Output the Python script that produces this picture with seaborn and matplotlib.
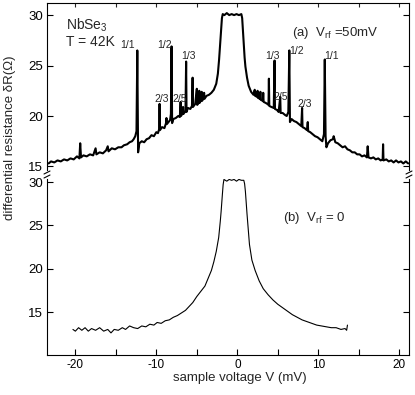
import matplotlib
matplotlib.use('Agg')
import numpy as np
import pandas as pd
import matplotlib.pyplot as plt
import seaborn as sns

# ---------------------------------------------------------------
# data
# ---------------------------------------------------------------
# (a) V_rf = 50 mV  (sample voltage in mV, dR in Ohm)
va_x = [-23.3, -23.0, -22.6, -22.2, -21.8, -21.4, -21.0, -20.6, -20.2, -19.8,
        -19.5, -19.4, -19.3, -19.0, -18.6, -18.2, -17.8, -17.5, -17.4, -17.0,
        -16.6, -16.2, -16.0, -15.9, -15.5, -15.1, -14.7, -14.3, -14.0, -13.6,
        -13.3, -13.0, -12.8, -12.6, -12.45, -12.35, -12.25, -12.1, -11.8, -11.5,
        -11.2, -10.9, -10.6, -10.3, -10.0, -9.8, -9.65, -9.6, -9.55, -9.3,
        -9.0, -8.8, -8.75, -8.7, -8.5, -8.3, -8.2, -8.12, -8.05, -7.9,
        -7.6, -7.3, -7.1, -7.0, -6.95, -6.75, -6.7, -6.65, -6.4, -6.32,
        -6.27, -6.1, -5.8, -5.6, -5.52, -5.47, -5.2, -5.0, -4.95, -4.75,
        -4.7, -4.65, -4.45, -4.4, -4.35, -4.15, -4.1, -4.05, -3.8, -3.5,
        -3.2, -2.9, -2.6, -2.4, -2.25, -2.1, -2.0, -1.9, -1.8, -1.6,
        -1.3, -1.0, -0.7, -0.4, -0.1, 0.2, 0.5, 0.6, 0.7, 0.8,
        0.9, 1.0, 1.2, 1.4, 1.7, 2.0, 2.15, 2.2, 2.45, 2.5,
        2.55, 2.8, 2.85, 2.9, 3.15, 3.2, 3.25, 3.5, 3.7, 3.85,
        3.9, 3.95, 4.2, 4.5, 4.6, 4.65, 4.9, 5.1, 5.3, 5.35,
        5.6, 5.9, 6.1, 6.3, 6.42, 6.5, 6.7, 7.0, 7.3, 7.6,
        7.9, 8.0, 8.05, 8.3, 8.6, 8.7, 8.75, 9.0, 9.3, 9.6,
        9.9, 10.2, 10.5, 10.7, 10.8, 10.9, 11.0, 11.2, 11.5, 11.8,
        11.9, 12.1, 12.4, 12.7, 13.0, 13.3, 13.6, 13.9, 14.2, 14.5,
        14.8, 15.1, 15.4, 15.7, 16.0, 16.1, 16.2, 16.5, 16.8, 17.1,
        17.4, 17.7, 17.95, 18.0, 18.05, 18.4, 18.7, 19.0, 19.3, 19.6,
        19.9, 20.2, 20.5, 20.8, 21.1]
va_y = [15.3, 15.5, 15.4, 15.6, 15.5, 15.7, 15.6, 15.8, 15.7, 16.0,
        15.8, 17.3, 15.9, 16.1, 16.0, 16.2, 16.1, 16.8, 16.2, 16.4,
        16.3, 16.6, 17.0, 16.5, 16.8, 16.7, 16.9, 16.9, 17.1, 17.2,
        17.4, 17.5, 17.7, 18.0, 18.5, 26.5, 16.4, 17.3, 17.5, 17.4,
        17.7, 17.8, 18.1, 18.0, 18.4, 18.3, 18.7, 21.2, 18.6, 18.9,
        18.8, 19.3, 19.8, 19.2, 19.4, 19.6, 20.2, 26.9, 19.3, 19.7,
        19.8, 20.0, 19.9, 21.4, 20.0, 20.3, 20.9, 20.2, 20.5, 25.4,
        20.4, 20.8, 20.7, 21.0, 23.8, 20.9, 21.2, 22.7, 21.1, 21.4,
        22.5, 21.3, 21.6, 22.4, 21.5, 21.8, 22.3, 21.7, 22.0, 22.1,
        22.3, 22.6, 23.2, 24.2, 25.6, 27.4, 28.6, 29.7, 30.1, 30.0,
        30.2, 30.0, 30.1, 30.0, 30.1, 30.0, 30.1, 29.7, 28.4, 27.0,
        25.8, 24.9, 23.8, 23.0, 22.4, 22.1, 22.6, 22.0, 21.9, 22.5,
        21.8, 21.7, 22.4, 21.6, 21.5, 22.3, 21.4, 21.3, 21.2, 21.1,
        23.7, 21.0, 20.9, 20.8, 25.5, 20.7, 20.6, 20.4, 21.9, 20.3,
        20.3, 20.1, 20.0, 20.4, 26.5, 19.4, 19.7, 19.5, 19.4, 19.2,
        19.0, 20.8, 18.9, 18.8, 18.6, 19.4, 18.5, 18.4, 18.2, 18.0,
        17.9, 17.7, 17.5, 18.2, 25.6, 18.0, 16.9, 17.3, 17.6, 17.7,
        18.0, 17.4, 17.3, 17.1, 16.9, 17.0, 16.7, 16.6, 16.4, 16.4,
        16.2, 16.2, 16.0, 16.1, 15.9, 17.0, 15.9, 15.8, 15.9, 15.7,
        15.8, 15.6, 15.7, 17.2, 15.6, 15.7, 15.5, 15.6, 15.4, 15.6,
        15.4, 15.5, 15.3, 15.5, 15.3]

# (b) V_rf = 0
vb_x = [-20.3, -20.0, -19.6, -19.2, -18.8, -18.4, -18.0, -17.5, -17.0, -16.5,
        -16.0, -15.6, -15.2, -14.7, -14.2, -13.8, -13.3, -12.8, -12.3, -11.8,
        -11.3, -10.8, -10.3, -9.9, -9.4, -8.9, -8.4, -7.9, -7.4, -6.9,
        -6.4, -6.0, -5.5, -5.0, -4.5, -4.0, -3.6, -3.2, -2.9, -2.6,
        -2.3, -2.1, -2.0, -1.85, -1.75, -1.65, -1.3, -1.0, -0.7, -0.4,
        -0.1, 0.2, 0.5, 0.8, 0.9, 1.0, 1.2, 1.5, 1.8, 2.2,
        2.7, 3.2, 3.8, 4.4, 5.0, 5.6, 6.2, 6.8, 7.4, 8.0,
        8.6, 9.2, 9.8, 10.4, 11.0, 11.6, 12.2, 12.8, 13.3, 13.5,
        13.6]
vb_y = [13.0, 12.8, 13.2, 12.9, 13.2, 12.8, 13.1, 12.9, 13.2, 12.8,
        13.0, 12.6, 13.0, 12.9, 13.2, 13.0, 13.4, 13.2, 13.1, 13.4,
        13.3, 13.6, 13.5, 13.8, 13.7, 14.0, 14.1, 14.4, 14.6, 14.9,
        15.2, 15.6, 16.1, 16.8, 17.4, 18.0, 18.9, 19.8, 20.8, 22.0,
        23.6, 25.5, 26.6, 28.5, 29.7, 30.3, 30.1, 30.3, 30.2, 30.3,
        30.1, 30.3, 30.2, 30.2, 29.8, 28.9, 26.3, 22.8, 21.0, 19.8,
        18.6, 17.7, 17.0, 16.4, 15.9, 15.5, 15.1, 14.7, 14.4, 14.1,
        13.9, 13.7, 13.5, 13.4, 13.3, 13.2, 13.2, 13.0, 13.1, 12.9,
        13.5]

# step labels in panel (a)
step_text = ['1/1', '1/2', '1/3', '2/3', '2/5', '1/3', '1/2', '2/5', '2/3', '1/1']
step_x = [-13.5, -9.0, -6.0, -9.4, -7.1, 4.4, 7.35, 5.4, 8.3, 11.6]
step_y = [27.0, 27.0, 25.9, 21.7, 21.7, 25.9, 26.4, 21.9, 21.2, 25.9]

x_ticks = [-20, -15, -10, -5, 0, 5, 10, 15, 20]
x_ticklabels = ['-20', '', '-10', '', '0', '', '10', '', '20']
y_ticks = [15, 20, 25, 30]

# ---------------------------------------------------------------
# style
# ---------------------------------------------------------------
sns.set_theme(style='white')
plt.rcParams['font.family'] = ['Liberation Sans', 'DejaVu Sans']
plt.rcParams['axes.edgecolor'] = 'black'
plt.rcParams['axes.linewidth'] = 0.8

fig = plt.figure(figsize=(4.15, 3.95), dpi=100)
W, H = 415.0, 395.0
ax_a = fig.add_axes([47 / W, 1 - 170 / H, 362 / W, 167 / H])
ax_b = fig.add_axes([47 / W, 1 - 355 / H, 362 / W, 176 / H])

df_a = pd.DataFrame({'V': va_x, 'dR': va_y})
df_b = pd.DataFrame({'V': vb_x, 'dR': vb_y})
sns.lineplot(data=df_a, x='V', y='dR', ax=ax_a, color='black', linewidth=1.5,
             sort=False, estimator=None)
sns.lineplot(data=df_b, x='V', y='dR', ax=ax_b, color='black', linewidth=0.8,
             sort=False, estimator=None)

for ax in (ax_a, ax_b):
    ax.set_xlim(-23.5, 21.2)
    ax.set_xticks(x_ticks)
    ax.set_yticks(y_ticks)
    ax.set_xlabel('')
    ax.set_ylabel('')
    ax.tick_params(axis='y', which='both', left=True, right=True, direction='in',
                   length=4, width=0.8, labelsize=9.5, pad=3, colors='black')
    for s in ax.spines.values():
        s.set_color('black')

ax_a.set_ylim(14.65, 31.2)
ax_b.set_ylim(10.05, 30.35)

ax_a.spines['bottom'].set_visible(False)
ax_b.spines['top'].set_visible(False)
ax_a.tick_params(axis='x', top=True, bottom=False, labelbottom=False,
                 direction='in', length=3, width=0.8)
ax_b.tick_params(axis='x', top=False, bottom=True, direction='in', length=4,
                 width=0.8, labelsize=8.5, pad=3, colors='black')
ax_b.set_xticklabels(x_ticklabels)

# axis break marks
for xp in (47, 409):
    for yp in (172.5, 176.5):
        fig.add_artist(plt.Line2D([(xp - 3) / W, (xp + 3) / W],
                                  [1 - (yp + 1.5) / H, 1 - (yp - 1.5) / H],
                                  color='black', linewidth=0.8))

# texts
ax_a.text(-21.2, 28.6, 'NbSe$_\\mathregular{3}$', fontsize=10, ha='left', va='baseline')
ax_a.text(-21.2, 26.9, 'T = 42K', fontsize=10, ha='left', va='baseline')
ax_a.text(6.8, 27.9, '(a)  V$_\\mathregular{rf}$ =50mV', fontsize=9.5,
          ha='left', va='baseline')
ax_b.text(5.7, 25.5, '(b)  V$_\\mathregular{rf}$ = 0', fontsize=9.5,
          ha='left', va='baseline')

for t, x, y in zip(step_text, step_x, step_y):
    ax_a.text(x, y, t, fontsize=7.5, ha='center', va='center')

fig.text(10 / W, 1 - 138 / H, 'differential resistance δR(Ω)', rotation=90,
         ha='center', va='center', fontsize=9.5)
fig.text(240 / W, 1 - 378 / H, 'sample voltage V (mV)', ha='center', va='center',
         fontsize=9.5)

fig.savefig('out.png', dpi=100, facecolor='white')
